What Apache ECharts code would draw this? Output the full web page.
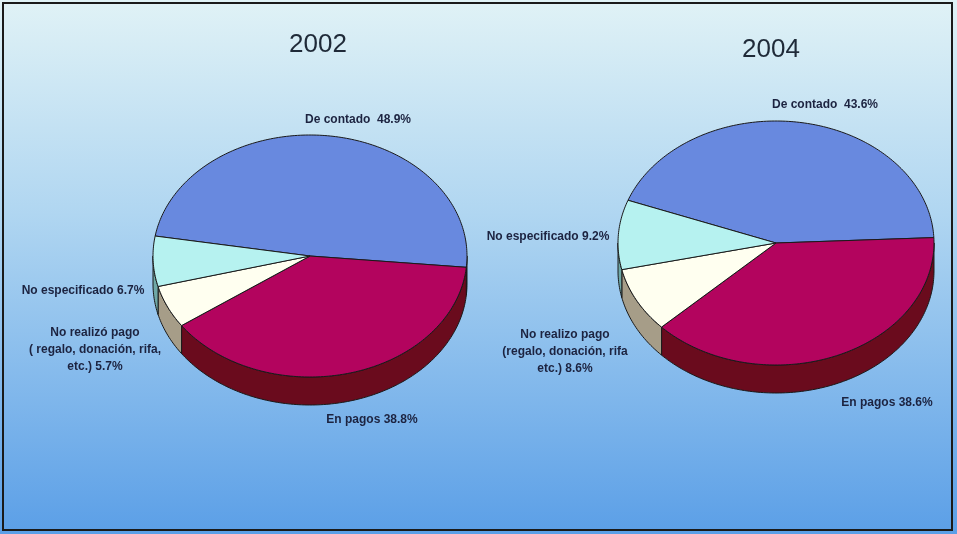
<!DOCTYPE html>
<html>
<head>
<meta charset="utf-8">
<script src="https://cdn.jsdelivr.net/npm/echarts@6/dist/echarts.min.js"></script>
<style>
  html, body { margin: 0; padding: 0; background: #ffffff; }
  #chart { width: 957px; height: 534px; }
</style>
</head>
<body>
<div id="chart"></div>
<script>
// Forma de pago, 2002 y 2004 (porcentajes)
const years = ['2002', '2004'];
const categories = ['De contado', 'En pagos', 'No realizó pago', 'No especificado'];
const values2002 = [48.9, 38.8, 5.7, 6.7];
const values2004 = [43.6, 38.6, 8.6, 9.2];
const labels2002 = ['De contado  ', 'En pagos ', 'No realizó pago\n( regalo, donación, rifa,\netc.) ', 'No especificado '];
const labels2004 = ['De contado  ', 'En pagos ', 'No realizo pago\n(regalo, donación, rifa\netc.) ', 'No especificado '];

// Layout of each tilted pie: centre, radii, thickness, angle of the first slice
const pieLayout = [
  { cx: 310, cy: 256, rx: 157, ry: 121, depth: 28, start: 189.5,
    labelPos: [[358, 120], [372, 420], [95, 350], [83, 291]], titlePos: [318, 45] },
  { cx: 776, cy: 243, rx: 158, ry: 122, depth: 28, start: 200.5,
    labelPos: [[825, 105], [887, 403], [565, 352], [548, 237]], titlePos: [771, 50] }
];
const topColors = ['#6889df', '#b3045e', '#fffff0', '#b6f2f0'];
const sideColors = ['#2e4896', '#6a0b1d', '#a69d88', '#6fa8a6'];

const seriesValues = [values2002, values2004];
const seriesLabels = [labels2002, labels2004];

function ellPt(L, deg, dy) {
  const t = deg * Math.PI / 180;
  return [L.cx + L.rx * Math.cos(t), L.cy + L.ry * Math.sin(t) + (dy || 0)];
}

function arcPts(L, a, b, dy) {
  const pts = [];
  const n = Math.max(2, Math.ceil(Math.abs(b - a)));
  for (let k = 0; k <= n; k++) pts.push(ellPt(L, a + (b - a) * k / n, dy));
  return pts;
}

function makeRender(pieIdx) {
  const L = pieLayout[pieIdx];
  const vals = seriesValues[pieIdx];
  const labs = seriesLabels[pieIdx];
  const total = vals.reduce((s, v) => s + v, 0);
  return function (params, api) {
    const i = params.dataIndex;
    let a0 = L.start;
    for (let k = 0; k < i; k++) a0 += vals[k] / total * 360;
    const a1 = a0 + api.value(0) / total * 360;
    const children = [];

    // outer wall: the parts of the slice facing the viewer (0..180 deg, screen)
    for (let m = 0; m <= 2; m++) {
      const s = Math.max(a0, 360 * m);
      const e = Math.min(a1, 360 * m + 180);
      if (e > s) {
        const top = arcPts(L, s, e, 0);
        const bot = arcPts(L, e, s, L.depth);
        children.push({
          type: 'polygon',
          shape: { points: top.concat(bot) },
          style: { fill: sideColors[i], stroke: '#1a1a1a', lineWidth: 1 }
        });
      }
    }

    // top face
    const face = [[L.cx, L.cy]].concat(arcPts(L, a0, a1, 0));
    children.push({
      type: 'polygon',
      shape: { points: face },
      style: { fill: topColors[i], stroke: '#1a1a1a', lineWidth: 1 }
    });

    const p = L.labelPos[i];
    children.push({
      type: 'text',
      x: p[0], y: p[1],
      style: {
        text: labs[i] + api.value(0).toFixed(1) + '%',
        fill: '#1c2340',
        font: 'bold 12px "Liberation Sans", Arial, sans-serif',
        align: 'center',
        verticalAlign: 'middle',
        lineHeight: 17
      }
    });
    return { type: 'group', children: children };
  };
}

const chart = echarts.init(document.getElementById('chart'), null, { renderer: 'canvas' });

chart.setOption({
  animation: false,
  backgroundColor: {
    type: 'linear', x: 0, y: 0, x2: 0, y2: 1,
    colorStops: [
      { offset: 0, color: '#e0f2f6' },
      { offset: 0.4, color: '#b0d6f1' },
      { offset: 1, color: '#5b9fe7' }
    ]
  },
  graphic: [
    {
      type: 'rect', silent: true,
      shape: { x: 3, y: 3, width: 949, height: 527 },
      style: { fill: 'none', stroke: '#1a1a1a', lineWidth: 2 }
    }
  ].concat(years.map((y, k) => ({
    type: 'text',
    x: pieLayout[k].titlePos[0], y: pieLayout[k].titlePos[1],
    style: {
      text: y, fill: '#1f2a38',
      font: '26px "Liberation Sans", Arial, sans-serif',
      align: 'center', verticalAlign: 'middle'
    }
  }))),
  series: seriesValues.map((vals, k) => ({
    type: 'custom',
    name: years[k],
    coordinateSystem: 'none',
    renderItem: makeRender(k),
    data: vals.map((v, j) => ({ name: categories[j], value: [v] }))
  }))
});
</script>
</body>
</html>
